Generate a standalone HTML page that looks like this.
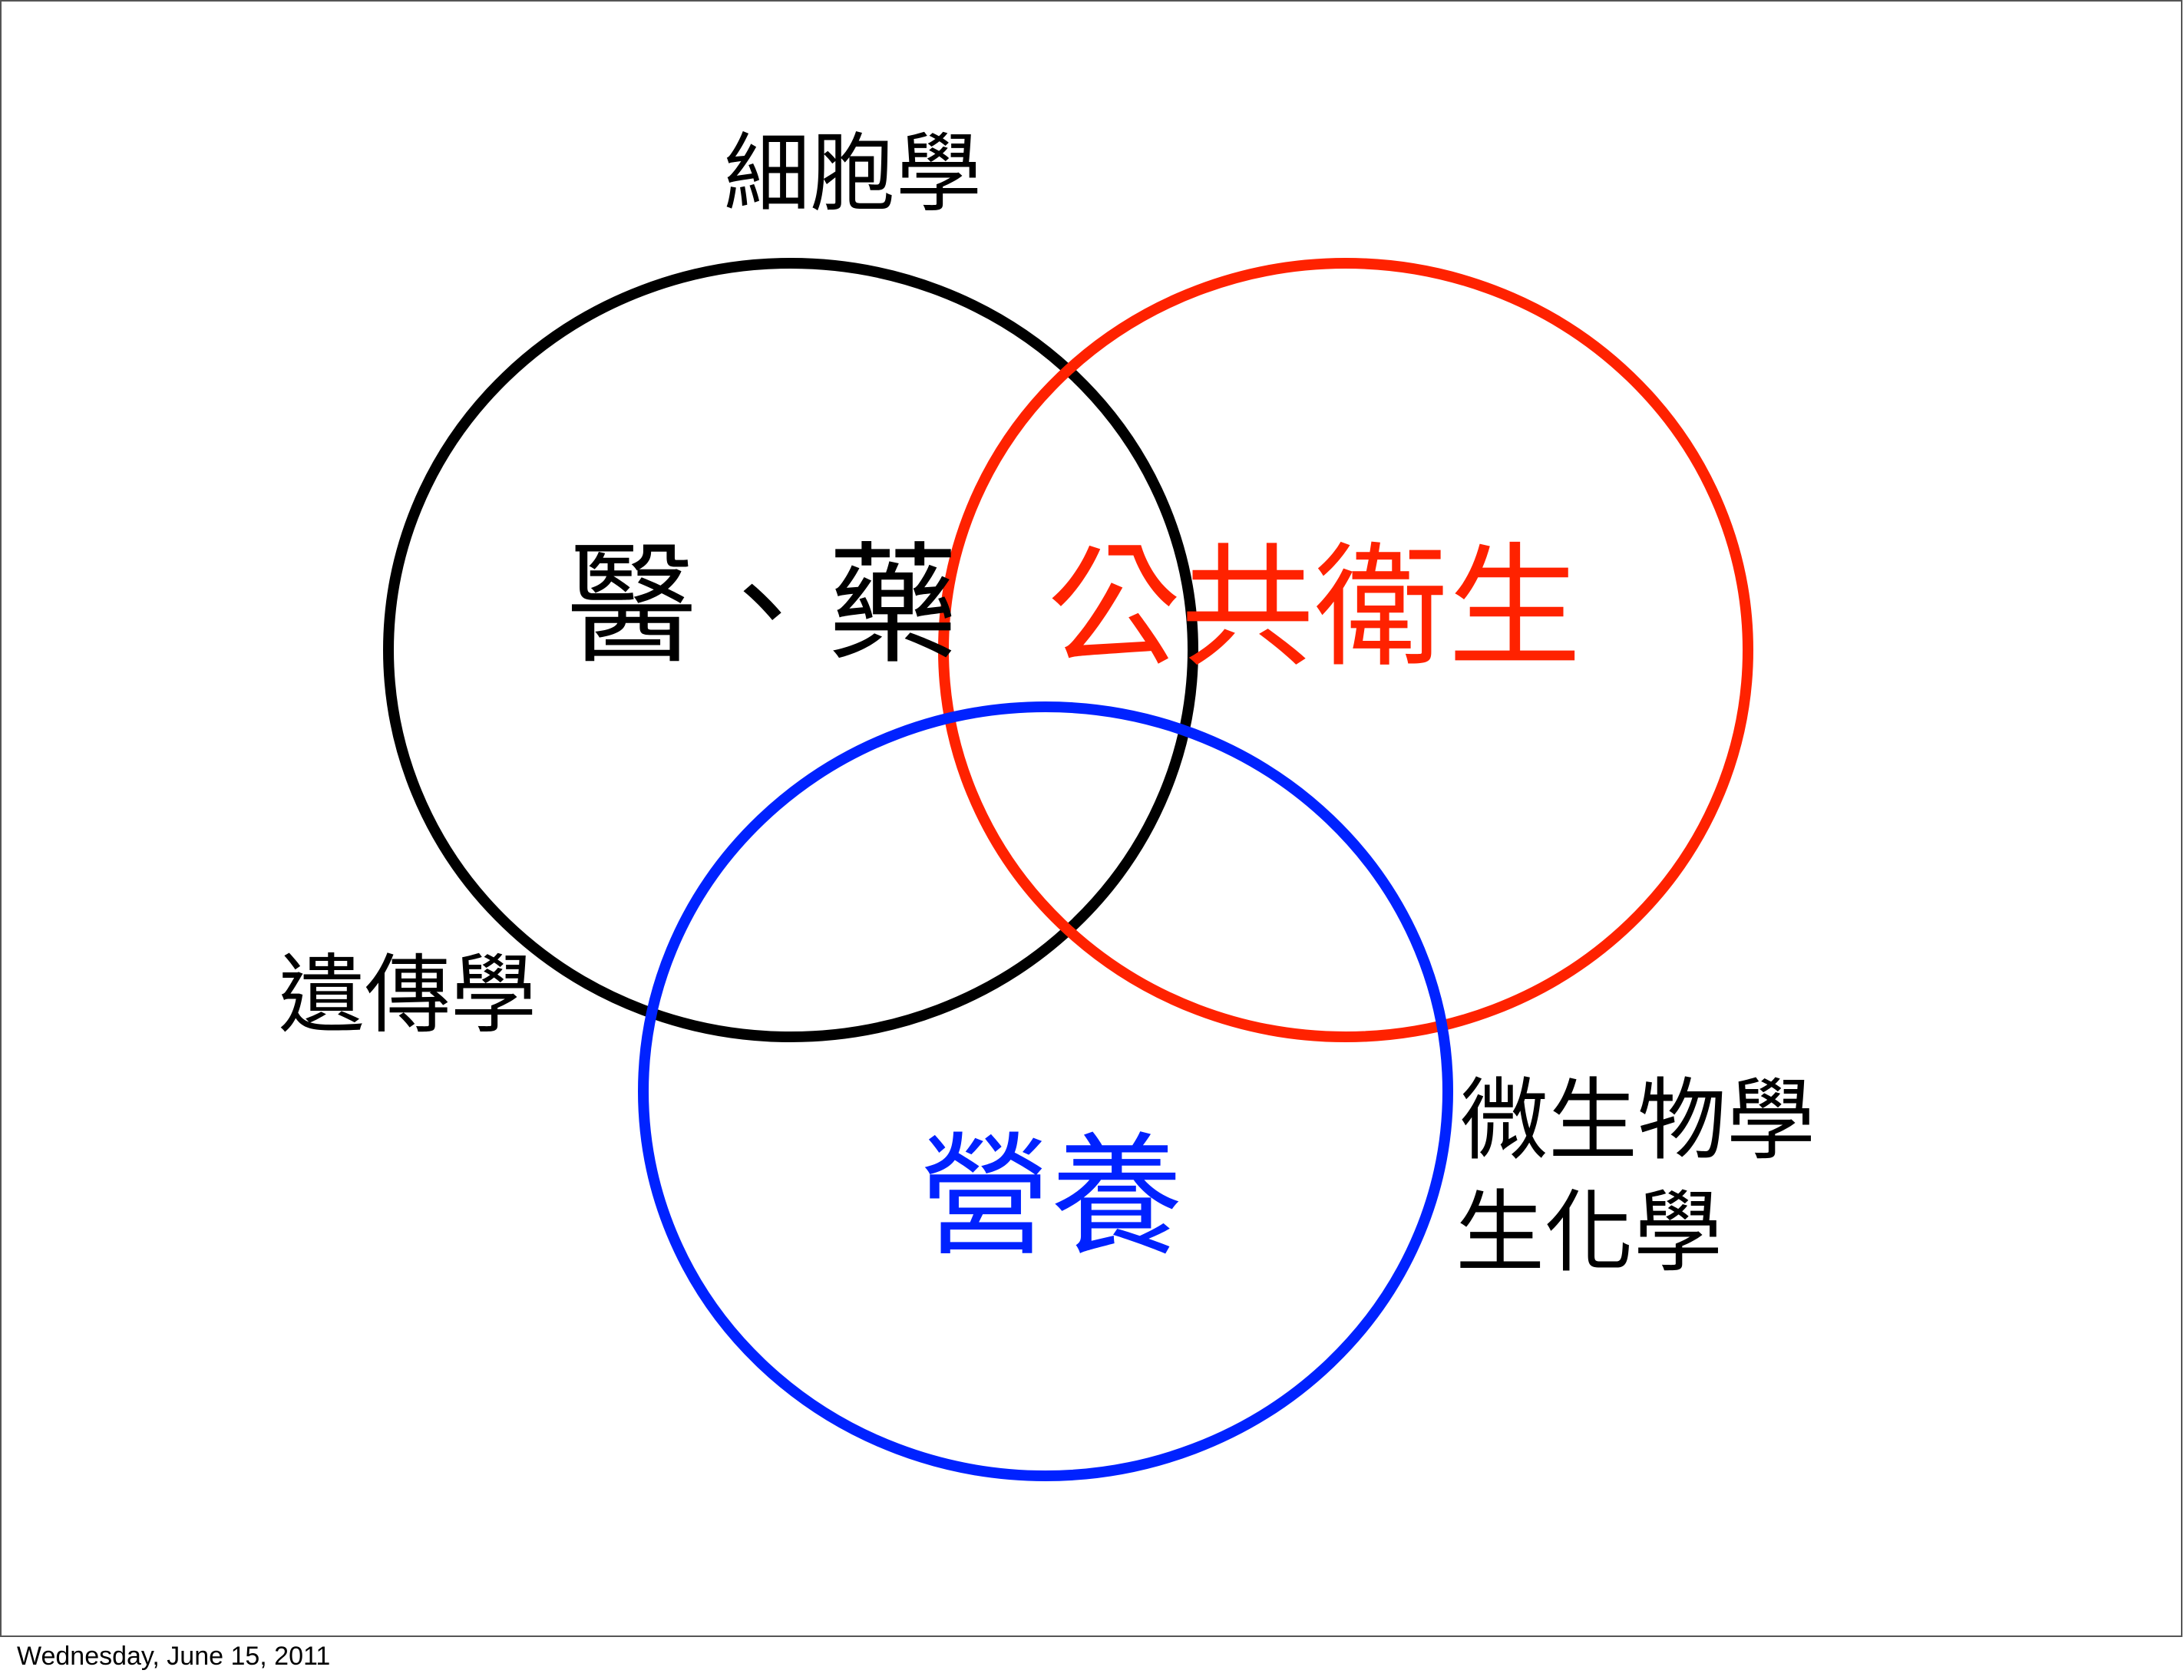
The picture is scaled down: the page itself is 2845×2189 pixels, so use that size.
<!DOCTYPE html>
<html><head><meta charset="utf-8"><style>
body{margin:0;width:2845px;height:2189px;background:#fff;position:relative;overflow:hidden;font-family:"Liberation Sans","Noto Sans CJK TC",sans-serif}
.t{position:absolute;line-height:1;white-space:nowrap}
</style></head><body>
<svg width="2845" height="2189" style="position:absolute;left:0;top:0">
<rect x="1" y="1" width="2841" height="2131" fill="none" stroke="#555" stroke-width="2"/>
<ellipse cx="1030" cy="847" rx="524" ry="504" fill="none" stroke="#000" stroke-width="14"/>
<ellipse cx="1753" cy="847" rx="524" ry="504" fill="none" stroke="#ff2200" stroke-width="14"/>
<ellipse cx="1362" cy="1422" rx="524" ry="501" fill="none" stroke="#0022ff" stroke-width="14"/>
</svg>
<div class="t" style="left:943px;top:171px;font-size:112px">細胞學</div>
<div class="t" style="left:738px;top:705px;font-size:170px">醫、藥</div>
<div class="t" style="left:1364px;top:705px;font-size:174px;color:#ff2200">公共衛生</div>
<div class="t" style="left:363px;top:1241px;font-size:112px">遺傳學</div>
<div class="t" style="left:1197px;top:1474px;font-size:172px;color:#0022ff">營養</div>
<div class="t" style="left:1901px;top:1402px;font-size:116px">微生物學</div>
<div class="t" style="left:1896px;top:1548px;font-size:116px">生化學</div>
<div class="t" style="left:22px;top:2141px;font-size:34px">Wednesday, June 15, 2011</div>
</body></html>
